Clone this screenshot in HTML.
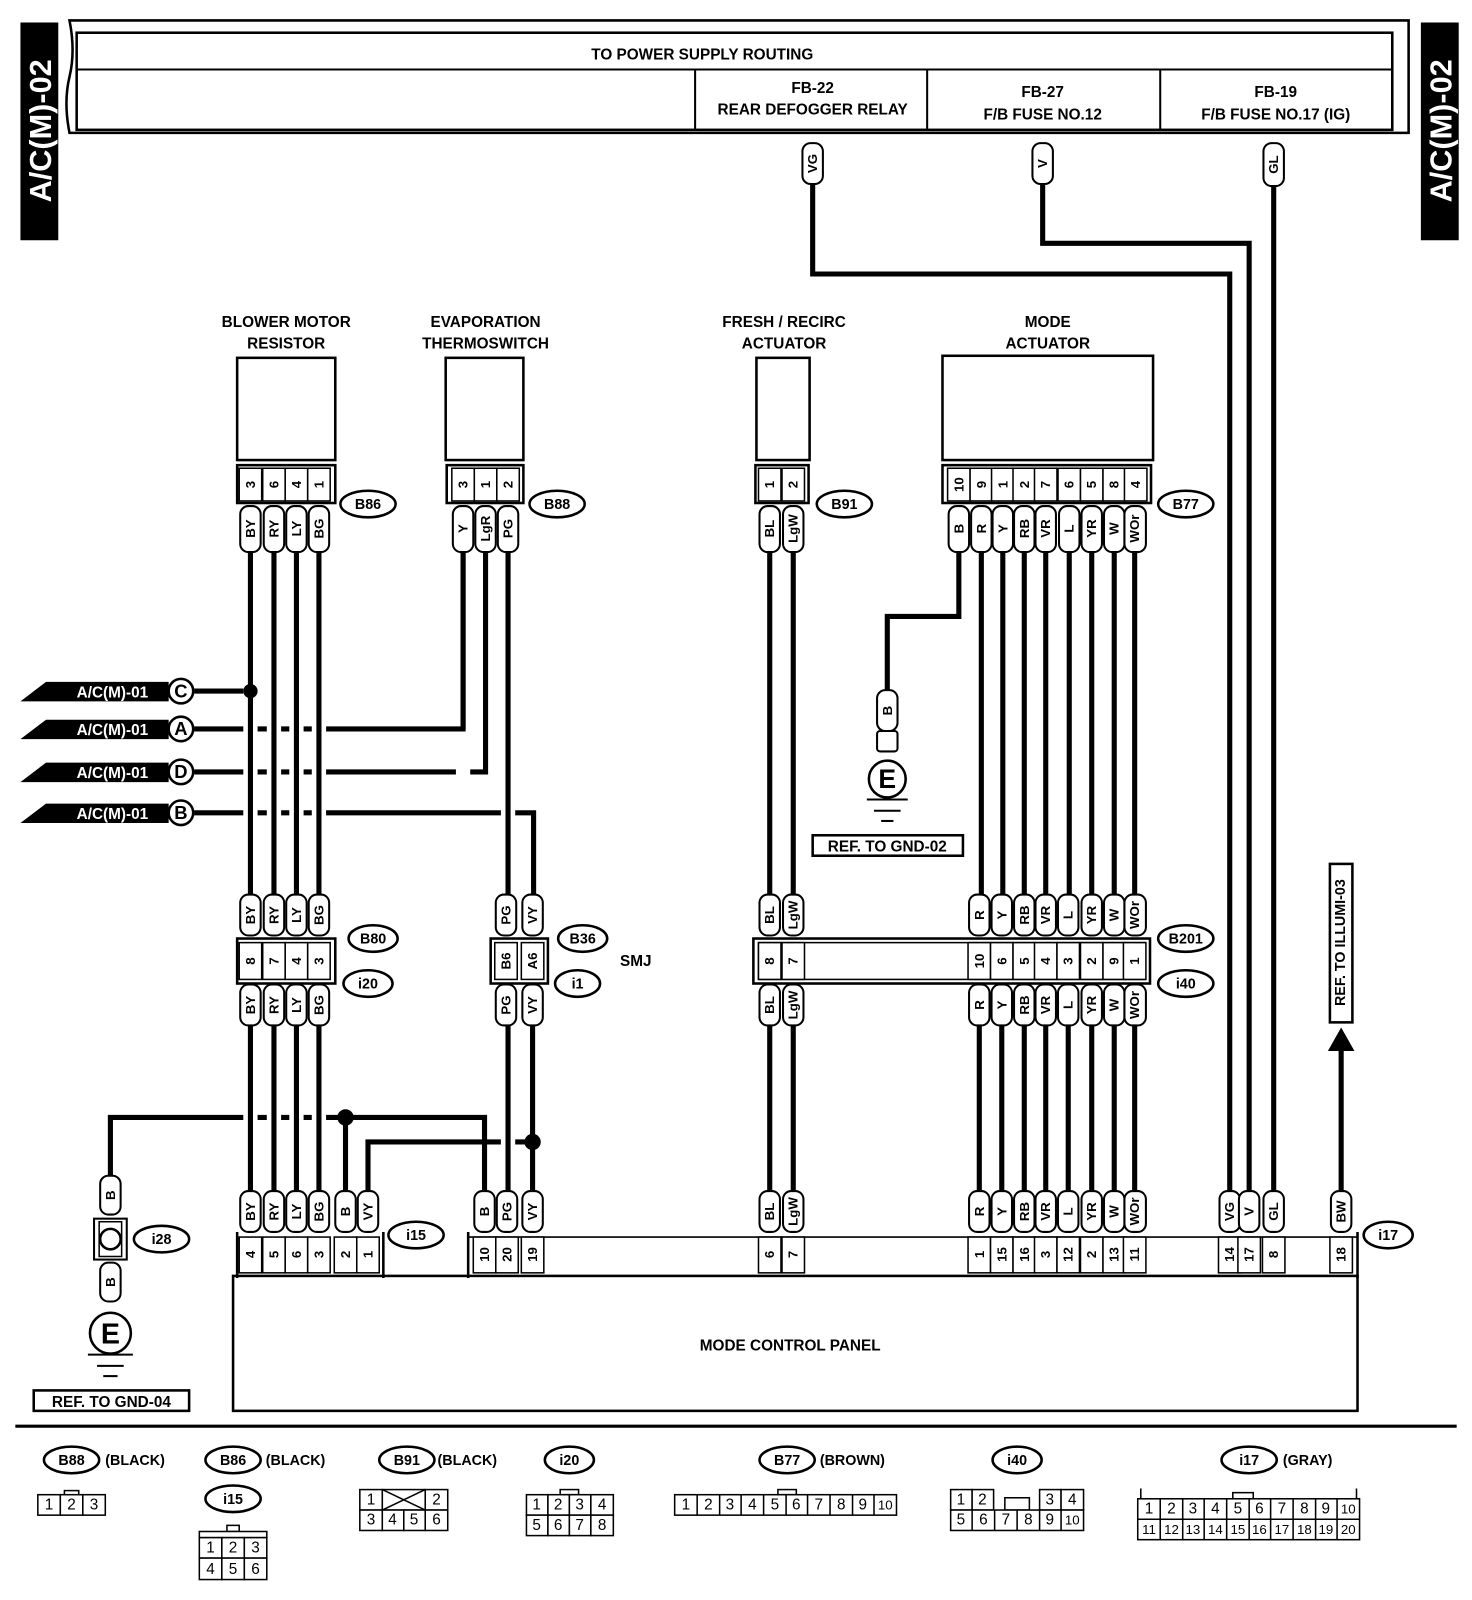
<!DOCTYPE html>
<html><head><meta charset="utf-8"><style>
html,body{margin:0;padding:0;background:#fff}
svg{display:block}
text{font-family:"Liberation Sans",Arial,sans-serif;font-weight:bold;fill:#000}
.t{font-size:15px;text-anchor:middle}
.r{font-size:13px;text-anchor:middle;dominant-baseline:central}
.n{font-size:13px;text-anchor:middle;dominant-baseline:central;font-weight:normal}
.p{fill:#fff;stroke:#000;stroke-width:2}
.c{fill:#fff;stroke:#000;stroke-width:1.5}
.o{fill:none;stroke:#000;stroke-width:2.5}
.w{fill:none;stroke:#000;stroke-width:5}
.h{fill:none;stroke:#fff;stroke-width:14}
.e{fill:#fff;stroke:#000;stroke-width:2.5}
.l{font-size:15px;font-weight:normal;text-anchor:middle;dominant-baseline:central}
</style></head><body>
<svg width="1472" height="1600" viewBox="0 0 1440 1565" preserveAspectRatio="none" xmlns="http://www.w3.org/2000/svg">
<rect x="20" y="22" width="37" height="213" fill="#000"/>
<text transform="translate(40,128) rotate(-90)" style="fill:#fff;font-size:30px;text-anchor:middle;dominant-baseline:central">A/C(M)-02</text>
<rect x="1390" y="22" width="37" height="213" fill="#000"/>
<text transform="translate(1410,128) rotate(-90)" style="fill:#fff;font-size:30px;text-anchor:middle;dominant-baseline:central">A/C(M)-02</text>
<path d="M68 20 H1378 V130 H68 Q62 100 68 75 Q74 50 68 20Z" class="o"/>
<rect x="75" y="32" width="1287" height="95" class="o"/>
<line x1="75" y1="68" x2="1362" y2="68" stroke="#000" stroke-width="2"/>
<line x1="680" y1="68" x2="680" y2="127" stroke="#000" stroke-width="2"/>
<line x1="907" y1="68" x2="907" y2="127" stroke="#000" stroke-width="2"/>
<line x1="1135" y1="68" x2="1135" y2="127" stroke="#000" stroke-width="2"/>
<text class="t" x="687" y="58">TO POWER SUPPLY ROUTING</text>
<text class="t" x="795" y="91">FB-22</text><text class="t" x="795" y="112">REAR DEFOGGER RELAY</text>
<text class="t" x="1020" y="95">FB-27</text><text class="t" x="1020" y="117">F/B FUSE NO.12</text>
<text class="t" x="1248" y="95">FB-19</text><text class="t" x="1248" y="117">F/B FUSE NO.17 (IG)</text>

<path class="w" d="M795 180 V268 H1203 V1165"/>
<path class="w" d="M1020 180 V238 H1222 V1165"/>
<path class="w" d="M1246 182 V1165"/>
<rect x="785" y="140" width="20" height="40" rx="8" class="p"/><text class="r" transform="translate(795,160) rotate(-90)">VG</text>
<rect x="1010" y="140" width="20" height="40" rx="8" class="p"/><text class="r" transform="translate(1020,160) rotate(-90)">V</text>
<rect x="1236" y="140" width="20" height="42" rx="8" class="p"/><text class="r" transform="translate(1246,161) rotate(-90)">GL</text>

<text class="t" x="280" y="320">BLOWER MOTOR</text><text class="t" x="280" y="341">RESISTOR</text>
<rect x="232" y="350" width="96" height="100" class="o"/>
<text class="t" x="475" y="320">EVAPORATION</text><text class="t" x="475" y="341">THERMOSWITCH</text>
<rect x="436" y="350" width="76" height="100" class="o"/>
<text class="t" x="767" y="320">FRESH / RECIRC</text><text class="t" x="767" y="341">ACTUATOR</text>
<rect x="740" y="350" width="52" height="100" class="o"/>
<text class="t" x="1025" y="320">MODE</text><text class="t" x="1025" y="341">ACTUATOR</text>
<rect x="922" y="348" width="206" height="102" class="o"/>

<path class="w" d="M190 676 H245"/>
<path class="w" d="M190 713 H453 V540"/>
<path class="w" d="M190 755 H475 V540"/>
<path class="w" d="M190 795 H522 V875"/>
<path class="w" d="M108 1150 V1093 H474 V1165"/>
<path class="w" d="M360 1165 V1117 H521"/>
<path class="h" d="M245 540 V875 M268 540 V875 M290 540 V875 M312 540 V875 M497 540 V875 M245 1003 V1165 M268 1003 V1165 M290 1003 V1165 M312 1003 V1165 M497 1003 V1165"/>
<path class="h" d="M453 748 V762"/>
<path class="w" d="M453 713 V540"/>
<path class="w" d="M245 540 V875 M268 540 V875 M290 540 V875 M312 540 V875 M497 540 V875"/>
<path class="w" d="M245 1003 V1165 M268 1003 V1165 M290 1003 V1165 M312 1003 V1165 M497 1003 V1165 M521 1003 V1165 M338 1093 V1165"/>
<path class="w" d="M753 540 V875 M776 540 V875 M753 1003 V1165 M776 1003 V1165"/>
<path class="w" d="M960 540 V875 M981 540 V875 M1002 540 V875 M1023 540 V875 M1046 540 V875 M1068 540 V875 M1090 540 V875 M1110 540 V875"/>
<path class="w" d="M958 1003 V1165 M980 1003 V1165 M1002 1003 V1165 M1023 1003 V1165 M1045 1003 V1165 M1068 1003 V1165 M1090 1003 V1165 M1110 1003 V1165"/>
<path class="w" d="M938 540 V603 H868 V675"/>
<path class="w" d="M1312 1165 V1025"/>
<polygon points="1299,1028 1325,1028 1312,1005" fill="#000"/>
<circle cx="245" cy="676" r="7" fill="#000"/>
<circle cx="338" cy="1093" r="8" fill="#000"/>
<circle cx="521" cy="1117" r="8" fill="#000"/>

<g>
<polygon points="20,686 45,667 165,667 165,686" fill="#000"/><text x="110" y="682" style="fill:#fff;font-size:15px;text-anchor:middle">A/C(M)-01</text>
<circle cx="177" cy="676" r="12" class="e"/><text x="177" y="682" style="font-size:18px;text-anchor:middle">C</text>
<polygon points="20,723 45,704 165,704 165,723" fill="#000"/><text x="110" y="719" style="fill:#fff;font-size:15px;text-anchor:middle">A/C(M)-01</text>
<circle cx="177" cy="713" r="12" class="e"/><text x="177" y="719" style="font-size:18px;text-anchor:middle">A</text>
<polygon points="20,765 45,746 165,746 165,765" fill="#000"/><text x="110" y="761" style="fill:#fff;font-size:15px;text-anchor:middle">A/C(M)-01</text>
<circle cx="177" cy="755" r="12" class="e"/><text x="177" y="761" style="font-size:18px;text-anchor:middle">D</text>
<polygon points="20,805 45,786 165,786 165,805" fill="#000"/><text x="110" y="801" style="fill:#fff;font-size:15px;text-anchor:middle">A/C(M)-01</text>
<circle cx="177" cy="795" r="12" class="e"/><text x="177" y="801" style="font-size:18px;text-anchor:middle">B</text>
</g>

<rect x="232" y="455" width="96" height="37" class="o"/>
<g>
<rect x="234" y="458" width="22" height="32" class="c"/><text class="r" transform="translate(245,474) rotate(-90)">3</text>
<rect x="257" y="458" width="22" height="32" class="c"/><text class="r" transform="translate(268,474) rotate(-90)">6</text>
<rect x="279" y="458" width="22" height="32" class="c"/><text class="r" transform="translate(290,474) rotate(-90)">4</text>
<rect x="301" y="458" width="22" height="32" class="c"/><text class="r" transform="translate(312,474) rotate(-90)">1</text>
<rect x="235" y="495" width="20" height="45" rx="8" class="p"/><text class="r" transform="translate(245,517) rotate(-90)">BY</text>
<rect x="258" y="495" width="20" height="45" rx="8" class="p"/><text class="r" transform="translate(268,517) rotate(-90)">RY</text>
<rect x="280" y="495" width="20" height="45" rx="8" class="p"/><text class="r" transform="translate(290,517) rotate(-90)">LY</text>
<rect x="302" y="495" width="20" height="45" rx="8" class="p"/><text class="r" transform="translate(312,517) rotate(-90)">BG</text>
</g>
<ellipse cx="360" cy="493" rx="27" ry="13" class="e"/><text class="t" x="360" y="498" style="font-size:14px">B86</text>

<rect x="437" y="455" width="75" height="37" class="o"/>
<rect x="442" y="458" width="22" height="32" class="c"/><text class="r" transform="translate(453,474) rotate(-90)">3</text>
<rect x="464" y="458" width="22" height="32" class="c"/><text class="r" transform="translate(475,474) rotate(-90)">1</text>
<rect x="486" y="458" width="22" height="32" class="c"/><text class="r" transform="translate(497,474) rotate(-90)">2</text>
<rect x="443" y="495" width="20" height="45" rx="8" class="p"/><text class="r" transform="translate(453,517) rotate(-90)">Y</text>
<rect x="465" y="495" width="20" height="45" rx="8" class="p"/><text class="r" transform="translate(475,517) rotate(-90)">LgR</text>
<rect x="487" y="495" width="20" height="45" rx="8" class="p"/><text class="r" transform="translate(497,517) rotate(-90)">PG</text>
<ellipse cx="545" cy="493" rx="27" ry="13" class="e"/><text class="t" x="545" y="498" style="font-size:14px">B88</text>

<rect x="739" y="455" width="52" height="37" class="o"/>
<rect x="742" y="458" width="22" height="32" class="c"/><text class="r" transform="translate(753,474) rotate(-90)">1</text>
<rect x="765" y="458" width="22" height="32" class="c"/><text class="r" transform="translate(776,474) rotate(-90)">2</text>
<rect x="743" y="495" width="20" height="45" rx="8" class="p"/><text class="r" transform="translate(753,517) rotate(-90)">BL</text>
<rect x="766" y="495" width="20" height="45" rx="8" class="p"/><text class="r" transform="translate(776,517) rotate(-90)">LgW</text>
<ellipse cx="826" cy="493" rx="27" ry="13" class="e"/><text class="t" x="826" y="498" style="font-size:14px">B91</text>

<rect x="922" y="455" width="204" height="37" class="o"/>
<g>
<rect x="927" y="458" width="22" height="32" class="c"/><text class="r" transform="translate(938,474) rotate(-90)">10</text>
<rect x="949" y="458" width="22" height="32" class="c"/><text class="r" transform="translate(960,474) rotate(-90)">9</text>
<rect x="970" y="458" width="22" height="32" class="c"/><text class="r" transform="translate(981,474) rotate(-90)">1</text>
<rect x="991" y="458" width="22" height="32" class="c"/><text class="r" transform="translate(1002,474) rotate(-90)">2</text>
<rect x="1012" y="458" width="22" height="32" class="c"/><text class="r" transform="translate(1023,474) rotate(-90)">7</text>
<rect x="1035" y="458" width="22" height="32" class="c"/><text class="r" transform="translate(1046,474) rotate(-90)">6</text>
<rect x="1057" y="458" width="22" height="32" class="c"/><text class="r" transform="translate(1068,474) rotate(-90)">5</text>
<rect x="1079" y="458" width="22" height="32" class="c"/><text class="r" transform="translate(1090,474) rotate(-90)">8</text>
<rect x="1100" y="458" width="22" height="32" class="c"/><text class="r" transform="translate(1111,474) rotate(-90)">4</text>
<rect x="928" y="495" width="20" height="45" rx="8" class="p"/><text class="r" transform="translate(938,517) rotate(-90)">B</text>
<rect x="950" y="495" width="20" height="45" rx="8" class="p"/><text class="r" transform="translate(960,517) rotate(-90)">R</text>
<rect x="971" y="495" width="20" height="45" rx="8" class="p"/><text class="r" transform="translate(981,517) rotate(-90)">Y</text>
<rect x="992" y="495" width="20" height="45" rx="8" class="p"/><text class="r" transform="translate(1002,517) rotate(-90)">RB</text>
<rect x="1013" y="495" width="20" height="45" rx="8" class="p"/><text class="r" transform="translate(1023,517) rotate(-90)">VR</text>
<rect x="1036" y="495" width="20" height="45" rx="8" class="p"/><text class="r" transform="translate(1046,517) rotate(-90)">L</text>
<rect x="1058" y="495" width="20" height="45" rx="8" class="p"/><text class="r" transform="translate(1068,517) rotate(-90)">YR</text>
<rect x="1080" y="495" width="20" height="45" rx="8" class="p"/><text class="r" transform="translate(1090,517) rotate(-90)">W</text>
<rect x="1100" y="495" width="21" height="45" rx="8" class="p"/><text class="r" transform="translate(1110,517) rotate(-90)">WOr</text>
</g>
<ellipse cx="1160" cy="493" rx="27" ry="13" class="e"/><text class="t" x="1160" y="498" style="font-size:14px">B77</text>

<rect x="858" y="675" width="20" height="40" rx="8" class="p"/><text class="r" transform="translate(868,695) rotate(-90)">B</text>
<rect x="858" y="715" width="20" height="20" rx="3" class="p"/>
<circle cx="868" cy="762" r="18" class="e"/><text x="868" y="771" style="font-size:26px;text-anchor:middle">E</text>
<line x1="848" y1="782" x2="888" y2="782" stroke="#000" stroke-width="2"/>
<line x1="855" y1="793" x2="881" y2="793" stroke="#000" stroke-width="2"/>
<line x1="862" y1="803" x2="874" y2="803" stroke="#000" stroke-width="2"/>
<rect x="795" y="817" width="147" height="20" class="o" stroke-width="2"/><text class="t" x="868" y="833">REF. TO GND-02</text>

<rect x="232" y="918" width="96" height="44" class="o"/>
<g>
<rect x="235" y="875" width="20" height="40" rx="8" class="p"/><text class="r" transform="translate(245,895) rotate(-90)">BY</text>
<rect x="258" y="875" width="20" height="40" rx="8" class="p"/><text class="r" transform="translate(268,895) rotate(-90)">RY</text>
<rect x="280" y="875" width="20" height="40" rx="8" class="p"/><text class="r" transform="translate(290,895) rotate(-90)">LY</text>
<rect x="302" y="875" width="20" height="40" rx="8" class="p"/><text class="r" transform="translate(312,895) rotate(-90)">BG</text>
<rect x="234" y="922" width="22" height="36" class="c"/><text class="r" transform="translate(245,940) rotate(-90)">8</text>
<rect x="257" y="922" width="22" height="36" class="c"/><text class="r" transform="translate(268,940) rotate(-90)">7</text>
<rect x="279" y="922" width="22" height="36" class="c"/><text class="r" transform="translate(290,940) rotate(-90)">4</text>
<rect x="301" y="922" width="22" height="36" class="c"/><text class="r" transform="translate(312,940) rotate(-90)">3</text>
<rect x="235" y="963" width="20" height="40" rx="8" class="p"/><text class="r" transform="translate(245,983) rotate(-90)">BY</text>
<rect x="258" y="963" width="20" height="40" rx="8" class="p"/><text class="r" transform="translate(268,983) rotate(-90)">RY</text>
<rect x="280" y="963" width="20" height="40" rx="8" class="p"/><text class="r" transform="translate(290,983) rotate(-90)">LY</text>
<rect x="302" y="963" width="20" height="40" rx="8" class="p"/><text class="r" transform="translate(312,983) rotate(-90)">BG</text>
</g>
<ellipse cx="365" cy="918" rx="24" ry="13" class="e"/><text class="t" x="365" y="923" style="font-size:14px">B80</text>
<ellipse cx="360" cy="962" rx="24" ry="13" class="e"/><text class="t" x="360" y="967" style="font-size:14px">i20</text>

<rect x="480" y="918" width="56" height="44" class="o"/>
<rect x="485" y="875" width="20" height="40" rx="8" class="p"/><text class="r" transform="translate(495,895) rotate(-90)">PG</text>
<rect x="511" y="875" width="20" height="40" rx="8" class="p"/><text class="r" transform="translate(521,895) rotate(-90)">VY</text>
<rect x="484" y="922" width="22" height="36" class="c"/><text class="r" transform="translate(495,940) rotate(-90)">B6</text>
<rect x="510" y="922" width="22" height="36" class="c"/><text class="r" transform="translate(521,940) rotate(-90)">A6</text>
<rect x="485" y="963" width="20" height="40" rx="8" class="p"/><text class="r" transform="translate(495,983) rotate(-90)">PG</text>
<rect x="511" y="963" width="20" height="40" rx="8" class="p"/><text class="r" transform="translate(521,983) rotate(-90)">VY</text>
<ellipse cx="570" cy="918" rx="24" ry="13" class="e"/><text class="t" x="570" y="923" style="font-size:14px">B36</text>
<ellipse cx="565" cy="962" rx="22" ry="13" class="e"/><text class="t" x="565" y="967" style="font-size:14px">i1</text>
<text class="t" x="622" y="945">SMJ</text>

<rect x="737" y="918" width="388" height="44" class="o"/>
<rect x="742" y="922" width="378" height="36" fill="none" stroke="#000" stroke-width="1.5"/>
<g>
<rect x="743" y="875" width="20" height="40" rx="8" class="p"/><text class="r" transform="translate(753,895) rotate(-90)">BL</text>
<rect x="766" y="875" width="20" height="40" rx="8" class="p"/><text class="r" transform="translate(776,895) rotate(-90)">LgW</text>
<rect x="742" y="922" width="22" height="36" class="c"/><text class="r" transform="translate(753,940) rotate(-90)">8</text>
<rect x="765" y="922" width="22" height="36" class="c"/><text class="r" transform="translate(776,940) rotate(-90)">7</text>
<rect x="743" y="963" width="20" height="40" rx="8" class="p"/><text class="r" transform="translate(753,983) rotate(-90)">BL</text>
<rect x="766" y="963" width="20" height="40" rx="8" class="p"/><text class="r" transform="translate(776,983) rotate(-90)">LgW</text>
</g>
<g>
<rect x="948" y="875" width="20" height="40" rx="8" class="p"/><text class="r" transform="translate(958,895) rotate(-90)">R</text>
<rect x="970" y="875" width="20" height="40" rx="8" class="p"/><text class="r" transform="translate(980,895) rotate(-90)">Y</text>
<rect x="992" y="875" width="20" height="40" rx="8" class="p"/><text class="r" transform="translate(1002,895) rotate(-90)">RB</text>
<rect x="1013" y="875" width="20" height="40" rx="8" class="p"/><text class="r" transform="translate(1023,895) rotate(-90)">VR</text>
<rect x="1035" y="875" width="20" height="40" rx="8" class="p"/><text class="r" transform="translate(1045,895) rotate(-90)">L</text>
<rect x="1058" y="875" width="20" height="40" rx="8" class="p"/><text class="r" transform="translate(1068,895) rotate(-90)">YR</text>
<rect x="1080" y="875" width="20" height="40" rx="8" class="p"/><text class="r" transform="translate(1090,895) rotate(-90)">W</text>
<rect x="1100" y="875" width="21" height="40" rx="8" class="p"/><text class="r" transform="translate(1110,895) rotate(-90)">WOr</text>
<rect x="947" y="922" width="22" height="36" class="c"/><text class="r" transform="translate(958,940) rotate(-90)">10</text>
<rect x="969" y="922" width="22" height="36" class="c"/><text class="r" transform="translate(980,940) rotate(-90)">6</text>
<rect x="991" y="922" width="22" height="36" class="c"/><text class="r" transform="translate(1002,940) rotate(-90)">5</text>
<rect x="1012" y="922" width="22" height="36" class="c"/><text class="r" transform="translate(1023,940) rotate(-90)">4</text>
<rect x="1034" y="922" width="22" height="36" class="c"/><text class="r" transform="translate(1045,940) rotate(-90)">3</text>
<rect x="1057" y="922" width="22" height="36" class="c"/><text class="r" transform="translate(1068,940) rotate(-90)">2</text>
<rect x="1079" y="922" width="22" height="36" class="c"/><text class="r" transform="translate(1090,940) rotate(-90)">9</text>
<rect x="1099" y="922" width="22" height="36" class="c"/><text class="r" transform="translate(1110,940) rotate(-90)">1</text>
<rect x="948" y="963" width="20" height="40" rx="8" class="p"/><text class="r" transform="translate(958,983) rotate(-90)">R</text>
<rect x="970" y="963" width="20" height="40" rx="8" class="p"/><text class="r" transform="translate(980,983) rotate(-90)">Y</text>
<rect x="992" y="963" width="20" height="40" rx="8" class="p"/><text class="r" transform="translate(1002,983) rotate(-90)">RB</text>
<rect x="1013" y="963" width="20" height="40" rx="8" class="p"/><text class="r" transform="translate(1023,983) rotate(-90)">VR</text>
<rect x="1035" y="963" width="20" height="40" rx="8" class="p"/><text class="r" transform="translate(1045,983) rotate(-90)">L</text>
<rect x="1058" y="963" width="20" height="40" rx="8" class="p"/><text class="r" transform="translate(1068,983) rotate(-90)">YR</text>
<rect x="1080" y="963" width="20" height="40" rx="8" class="p"/><text class="r" transform="translate(1090,983) rotate(-90)">W</text>
<rect x="1100" y="963" width="21" height="40" rx="8" class="p"/><text class="r" transform="translate(1110,983) rotate(-90)">WOr</text>
</g>
<ellipse cx="1160" cy="918" rx="27" ry="13" class="e"/><text class="t" x="1160" y="923" style="font-size:14px">B201</text>
<ellipse cx="1160" cy="962" rx="27" ry="13" class="e"/><text class="t" x="1160" y="967" style="font-size:14px">i40</text>

<rect x="1301" y="845" width="22" height="155" class="o" stroke-width="2"/>
<text transform="translate(1312,922) rotate(-90)" style="font-size:14px;text-anchor:middle;dominant-baseline:central">REF. TO ILLUMI-03</text>

<rect x="98" y="1150" width="20" height="38" rx="8" class="p"/><text class="r" transform="translate(108,1169) rotate(-90)">B</text>
<rect x="92" y="1192" width="32" height="40" fill="#fff" stroke="#000" stroke-width="2"/>
<rect x="97" y="1195" width="22" height="34" fill="#fff" stroke="#000" stroke-width="1.5"/>
<circle cx="108" cy="1212" r="10" class="e"/>
<ellipse cx="158" cy="1212" rx="27" ry="13" class="e"/><text class="t" x="158" y="1217" style="font-size:14px">i28</text>
<rect x="98" y="1235" width="20" height="38" rx="8" class="p"/><text class="r" transform="translate(108,1254) rotate(-90)">B</text>
<circle cx="108" cy="1304" r="20" class="e"/><text x="108" y="1314" style="font-size:28px;text-anchor:middle">E</text>
<line x1="86" y1="1325" x2="130" y2="1325" stroke="#000" stroke-width="2"/>
<line x1="95" y1="1336" x2="121" y2="1336" stroke="#000" stroke-width="2"/>
<line x1="101" y1="1346" x2="115" y2="1346" stroke="#000" stroke-width="2"/>
<rect x="33" y="1360" width="152" height="20" class="o" stroke-width="2"/><text class="t" x="109" y="1376">REF. TO GND-04</text>

<rect x="228" y="1248" width="1100" height="132" class="o"/>
<text class="t" x="773" y="1321">MODE CONTROL PANEL</text>
<path d="M232 1205 V1250 M375 1205 V1250 M458 1205 V1250 M1328 1205 V1250" class="o"/>
<line x1="458" y1="1210" x2="1328" y2="1210" stroke="#000" stroke-width="1.5"/>
<ellipse cx="407" cy="1208" rx="27" ry="13" class="e"/><text class="t" x="407" y="1213" style="font-size:14px">i15</text>
<ellipse cx="1358" cy="1208" rx="24" ry="13" class="e"/><text class="t" x="1358" y="1213" style="font-size:14px">i17</text>
<g>
<rect x="234" y="1210" width="22" height="35" class="c"/><text class="r" transform="translate(245,1227) rotate(-90)">4</text>
<rect x="257" y="1210" width="22" height="35" class="c"/><text class="r" transform="translate(268,1227) rotate(-90)">5</text>
<rect x="279" y="1210" width="22" height="35" class="c"/><text class="r" transform="translate(290,1227) rotate(-90)">6</text>
<rect x="301" y="1210" width="22" height="35" class="c"/><text class="r" transform="translate(312,1227) rotate(-90)">3</text>
<rect x="327" y="1210" width="22" height="35" class="c"/><text class="r" transform="translate(338,1227) rotate(-90)">2</text>
<rect x="349" y="1210" width="22" height="35" class="c"/><text class="r" transform="translate(360,1227) rotate(-90)">1</text>
<rect x="235" y="1165" width="20" height="40" rx="8" class="p"/><text class="r" transform="translate(245,1185) rotate(-90)">BY</text>
<rect x="258" y="1165" width="20" height="40" rx="8" class="p"/><text class="r" transform="translate(268,1185) rotate(-90)">RY</text>
<rect x="280" y="1165" width="20" height="40" rx="8" class="p"/><text class="r" transform="translate(290,1185) rotate(-90)">LY</text>
<rect x="302" y="1165" width="20" height="40" rx="8" class="p"/><text class="r" transform="translate(312,1185) rotate(-90)">BG</text>
<rect x="328" y="1165" width="20" height="40" rx="8" class="p"/><text class="r" transform="translate(338,1185) rotate(-90)">B</text>
<rect x="350" y="1165" width="20" height="40" rx="8" class="p"/><text class="r" transform="translate(360,1185) rotate(-90)">VY</text>
</g>
<g>
<rect x="463" y="1210" width="22" height="35" class="c"/><text class="r" transform="translate(474,1227) rotate(-90)">10</text>
<rect x="485" y="1210" width="22" height="35" class="c"/><text class="r" transform="translate(496,1227) rotate(-90)">20</text>
<rect x="510" y="1210" width="22" height="35" class="c"/><text class="r" transform="translate(521,1227) rotate(-90)">19</text>
<rect x="742" y="1210" width="22" height="35" class="c"/><text class="r" transform="translate(753,1227) rotate(-90)">6</text>
<rect x="765" y="1210" width="22" height="35" class="c"/><text class="r" transform="translate(776,1227) rotate(-90)">7</text>
<rect x="947" y="1210" width="22" height="35" class="c"/><text class="r" transform="translate(958,1227) rotate(-90)">1</text>
<rect x="969" y="1210" width="22" height="35" class="c"/><text class="r" transform="translate(980,1227) rotate(-90)">15</text>
<rect x="991" y="1210" width="22" height="35" class="c"/><text class="r" transform="translate(1002,1227) rotate(-90)">16</text>
<rect x="1012" y="1210" width="22" height="35" class="c"/><text class="r" transform="translate(1023,1227) rotate(-90)">3</text>
<rect x="1034" y="1210" width="22" height="35" class="c"/><text class="r" transform="translate(1045,1227) rotate(-90)">12</text>
<rect x="1057" y="1210" width="22" height="35" class="c"/><text class="r" transform="translate(1068,1227) rotate(-90)">2</text>
<rect x="1079" y="1210" width="22" height="35" class="c"/><text class="r" transform="translate(1090,1227) rotate(-90)">13</text>
<rect x="1099" y="1210" width="22" height="35" class="c"/><text class="r" transform="translate(1110,1227) rotate(-90)">11</text>
<rect x="1192" y="1210" width="22" height="35" class="c"/><text class="r" transform="translate(1203,1227) rotate(-90)">14</text>
<rect x="1211" y="1210" width="22" height="35" class="c"/><text class="r" transform="translate(1222,1227) rotate(-90)">17</text>
<rect x="1235" y="1210" width="22" height="35" class="c"/><text class="r" transform="translate(1246,1227) rotate(-90)">8</text>
<rect x="1301" y="1210" width="22" height="35" class="c"/><text class="r" transform="translate(1312,1227) rotate(-90)">18</text>
</g>
<g>
<rect x="464" y="1165" width="20" height="40" rx="8" class="p"/><text class="r" transform="translate(474,1185) rotate(-90)">B</text>
<rect x="486" y="1165" width="20" height="40" rx="8" class="p"/><text class="r" transform="translate(496,1185) rotate(-90)">PG</text>
<rect x="511" y="1165" width="20" height="40" rx="8" class="p"/><text class="r" transform="translate(521,1185) rotate(-90)">VY</text>
<rect x="743" y="1165" width="20" height="40" rx="8" class="p"/><text class="r" transform="translate(753,1185) rotate(-90)">BL</text>
<rect x="766" y="1165" width="20" height="40" rx="8" class="p"/><text class="r" transform="translate(776,1185) rotate(-90)">LgW</text>
<rect x="948" y="1165" width="20" height="40" rx="8" class="p"/><text class="r" transform="translate(958,1185) rotate(-90)">R</text>
<rect x="970" y="1165" width="20" height="40" rx="8" class="p"/><text class="r" transform="translate(980,1185) rotate(-90)">Y</text>
<rect x="992" y="1165" width="20" height="40" rx="8" class="p"/><text class="r" transform="translate(1002,1185) rotate(-90)">RB</text>
<rect x="1013" y="1165" width="20" height="40" rx="8" class="p"/><text class="r" transform="translate(1023,1185) rotate(-90)">VR</text>
<rect x="1035" y="1165" width="20" height="40" rx="8" class="p"/><text class="r" transform="translate(1045,1185) rotate(-90)">L</text>
<rect x="1058" y="1165" width="20" height="40" rx="8" class="p"/><text class="r" transform="translate(1068,1185) rotate(-90)">YR</text>
<rect x="1080" y="1165" width="20" height="40" rx="8" class="p"/><text class="r" transform="translate(1090,1185) rotate(-90)">W</text>
<rect x="1100" y="1165" width="21" height="40" rx="8" class="p"/><text class="r" transform="translate(1110,1185) rotate(-90)">WOr</text>
<rect x="1193" y="1165" width="20" height="40" rx="8" class="p"/><text class="r" transform="translate(1203,1185) rotate(-90)">VG</text>
<rect x="1212" y="1165" width="20" height="40" rx="8" class="p"/><text class="r" transform="translate(1222,1185) rotate(-90)">V</text>
<rect x="1236" y="1165" width="20" height="40" rx="8" class="p"/><text class="r" transform="translate(1246,1185) rotate(-90)">GL</text>
<rect x="1302" y="1165" width="20" height="40" rx="8" class="p"/><text class="r" transform="translate(1312,1185) rotate(-90)">BW</text>
</g>

<line x1="15" y1="1395" x2="1425" y2="1395" stroke="#000" stroke-width="3"/>

<g>
<ellipse cx="70" cy="1428" rx="27" ry="13" class="e"/><text class="t" x="70" y="1433" style="font-size:14px">B88</text><text x="103" y="1433" style="font-size:14px">(BLACK)</text>
<rect x="63" y="1458" width="14" height="5" class="c"/>
<rect x="37" y="1462" width="22" height="20" class="c"/><rect x="59" y="1462" width="22" height="20" class="c"/><rect x="81" y="1462" width="22" height="20" class="c"/>
<text class="l" x="48" y="1472">1</text><text class="l" x="70" y="1472">2</text><text class="l" x="92" y="1472">3</text>

<ellipse cx="228" cy="1428" rx="27" ry="13" class="e"/><text class="t" x="228" y="1433" style="font-size:14px">B86</text><text x="260" y="1433" style="font-size:14px">(BLACK)</text>
<ellipse cx="228" cy="1466" rx="27" ry="13" class="e"/><text class="t" x="228" y="1471" style="font-size:14px">i15</text>
<rect x="222" y="1492" width="12" height="6" class="c"/>
<rect x="195" y="1498" width="66" height="6" class="c"/>
<rect x="195" y="1504" width="22" height="20" class="c"/><rect x="217" y="1504" width="22" height="20" class="c"/><rect x="239" y="1504" width="22" height="20" class="c"/>
<rect x="195" y="1524" width="22" height="21" class="c"/><rect x="217" y="1524" width="22" height="21" class="c"/><rect x="239" y="1524" width="22" height="21" class="c"/>
<text class="l" x="206" y="1514">1</text><text class="l" x="228" y="1514">2</text><text class="l" x="250" y="1514">3</text>
<text class="l" x="206" y="1535">4</text><text class="l" x="228" y="1535">5</text><text class="l" x="250" y="1535">6</text>

<ellipse cx="398" cy="1428" rx="27" ry="13" class="e"/><text class="t" x="398" y="1433" style="font-size:14px">B91</text><text x="428" y="1433" style="font-size:14px">(BLACK)</text>
<rect x="352" y="1457" width="22" height="20" class="c"/><rect x="374" y="1457" width="42" height="20" class="c"/><rect x="416" y="1457" width="22" height="20" class="c"/>
<line x1="374" y1="1457" x2="416" y2="1477" stroke="#000" stroke-width="1.5"/><line x1="416" y1="1457" x2="374" y2="1477" stroke="#000" stroke-width="1.5"/>
<rect x="352" y="1477" width="22" height="20" class="c"/><rect x="374" y="1477" width="21" height="20" class="c"/><rect x="395" y="1477" width="21" height="20" class="c"/><rect x="416" y="1477" width="22" height="20" class="c"/>
<text class="l" x="363" y="1467">1</text><text class="l" x="427" y="1467">2</text>
<text class="l" x="363" y="1487">3</text><text class="l" x="384" y="1487">4</text><text class="l" x="405" y="1487">5</text><text class="l" x="427" y="1487">6</text>

<ellipse cx="557" cy="1428" rx="24" ry="13" class="e"/><text class="t" x="557" y="1433" style="font-size:14px">i20</text>
<rect x="548" y="1457" width="18" height="5" class="c"/>
<rect x="515" y="1462" width="21" height="20" class="c"/><rect x="536" y="1462" width="21" height="20" class="c"/><rect x="557" y="1462" width="21" height="20" class="c"/><rect x="578" y="1462" width="22" height="20" class="c"/>
<rect x="515" y="1482" width="21" height="20" class="c"/><rect x="536" y="1482" width="21" height="20" class="c"/><rect x="557" y="1482" width="21" height="20" class="c"/><rect x="578" y="1482" width="22" height="20" class="c"/>
<text class="l" x="525" y="1472">1</text><text class="l" x="546" y="1472">2</text><text class="l" x="567" y="1472">3</text><text class="l" x="589" y="1472">4</text>
<text class="l" x="525" y="1492">5</text><text class="l" x="546" y="1492">6</text><text class="l" x="567" y="1492">7</text><text class="l" x="589" y="1492">8</text>

<ellipse cx="770" cy="1428" rx="27" ry="13" class="e"/><text class="t" x="770" y="1433" style="font-size:14px">B77</text><text x="802" y="1433" style="font-size:14px">(BROWN)</text>
<rect x="761" y="1457" width="18" height="5" class="c"/>
<rect x="660" y="1462" width="217" height="20" class="c"/>
<path d="M682 1462V1482M704 1462V1482M725 1462V1482M747 1462V1482M769 1462V1482M790 1462V1482M812 1462V1482M834 1462V1482M855 1462V1482" stroke="#000" stroke-width="1.5"/>
<text class="l" x="671" y="1472">1</text><text class="l" x="693" y="1472">2</text><text class="l" x="714" y="1472">3</text><text class="l" x="736" y="1472">4</text><text class="l" x="758" y="1472">5</text><text class="l" x="779" y="1472">6</text><text class="l" x="801" y="1472">7</text><text class="l" x="823" y="1472">8</text><text class="l" x="844" y="1472">9</text><text class="l" x="866" y="1472" style="font-size:13px">10</text>

<ellipse cx="995" cy="1428" rx="24" ry="13" class="e"/><text class="t" x="995" y="1433" style="font-size:14px">i40</text>
<rect x="930" y="1457" width="21" height="20" class="c"/><rect x="951" y="1457" width="21" height="20" class="c"/>
<rect x="983" y="1465" width="24" height="12" class="c"/>
<rect x="1017" y="1457" width="21" height="20" class="c"/><rect x="1038" y="1457" width="22" height="20" class="c"/>
<rect x="930" y="1477" width="130" height="20" class="c"/>
<path d="M951 1477V1497M973 1477V1497M995 1477V1497M1017 1477V1497M1038 1477V1497" stroke="#000" stroke-width="1.5"/>
<text class="l" x="940" y="1467">1</text><text class="l" x="961" y="1467">2</text><text class="l" x="1027" y="1467">3</text><text class="l" x="1049" y="1467">4</text>
<text class="l" x="940" y="1487">5</text><text class="l" x="962" y="1487">6</text><text class="l" x="984" y="1487">7</text><text class="l" x="1006" y="1487">8</text><text class="l" x="1027" y="1487">9</text><text class="l" x="1049" y="1487" style="font-size:13px">10</text>

<ellipse cx="1222" cy="1428" rx="27" ry="13" class="e"/><text class="t" x="1222" y="1433" style="font-size:14px">i17</text><text x="1255" y="1433" style="font-size:14px">(GRAY)</text>
<rect x="1206" y="1460" width="20" height="6" class="c"/>
<path d="M1116 1456V1466H1113M1327 1456V1466H1330" fill="none" stroke="#000" stroke-width="1.5"/>
<rect x="1113" y="1466" width="217" height="40" class="c"/>
<line x1="1113" y1="1486" x2="1330" y2="1486" stroke="#000" stroke-width="1.5"/>
<path d="M1135 1466V1506M1157 1466V1506M1178 1466V1506M1200 1466V1506M1222 1466V1506M1243 1466V1506M1265 1466V1506M1287 1466V1506M1308 1466V1506" stroke="#000" stroke-width="1.5"/>
<text class="l" x="1124" y="1476">1</text><text class="l" x="1146" y="1476">2</text><text class="l" x="1167" y="1476">3</text><text class="l" x="1189" y="1476">4</text><text class="l" x="1211" y="1476">5</text><text class="l" x="1232" y="1476">6</text><text class="l" x="1254" y="1476">7</text><text class="l" x="1276" y="1476">8</text><text class="l" x="1297" y="1476">9</text><text class="l" x="1319" y="1476" style="font-size:13px">10</text>
<text class="l" x="1124" y="1496" style="font-size:13px">11</text><text class="l" x="1146" y="1496" style="font-size:13px">12</text><text class="l" x="1167" y="1496" style="font-size:13px">13</text><text class="l" x="1189" y="1496" style="font-size:13px">14</text><text class="l" x="1211" y="1496" style="font-size:13px">15</text><text class="l" x="1232" y="1496" style="font-size:13px">16</text><text class="l" x="1254" y="1496" style="font-size:13px">17</text><text class="l" x="1276" y="1496" style="font-size:13px">18</text><text class="l" x="1297" y="1496" style="font-size:13px">19</text><text class="l" x="1319" y="1496" style="font-size:13px">20</text>
</g>
</svg>
</body></html>
